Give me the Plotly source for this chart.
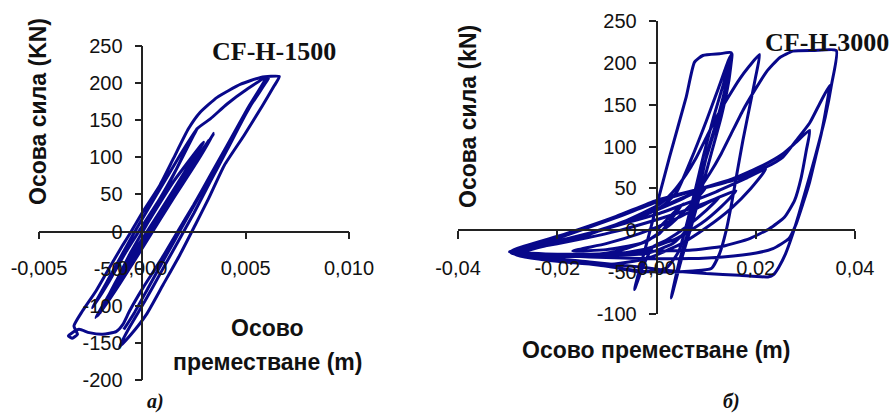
import plotly.graph_objects as go

# ---------------- data ----------------
# CF-H-1500 : axial displacement (m) and axial force (kN), traced load path
LEFT_DISP_M = [
    0.0, 0.00150, 0.00296,
    0.00215, 0.00085, -0.00029, -0.00127, -0.00208,
    -0.00111, 0.00020, 0.00150, 0.00264, 0.00345,
    0.00248, 0.00117, -0.00013, -0.00127, -0.00217,
    -0.00120, 0.00025, 0.00160, 0.00270, 0.00320,
    0.00230, 0.00100, -0.00030, -0.00140, -0.00225,
    -0.00143, -0.00062, 0.00020, 0.00117, 0.00199, 0.00248, 0.00267, 0.00251,
    0.00182, 0.00068, -0.00046, -0.00143, -0.00241,
    -0.00160, -0.00078, 0.00003, 0.00085, 0.00166, 0.00265, 0.00329, 0.00410, 0.00508, 0.00598,
    0.00508, 0.00410, 0.00329, 0.00248, 0.00166, 0.00085, 0.00003, -0.00062, -0.00094, -0.00127,
    -0.00192, -0.00257, -0.00306, -0.00339, -0.00358, -0.00339, -0.00314,
    -0.00331, -0.00290, -0.00225, -0.00160, -0.00094, -0.00054, 0.00003, 0.00085, 0.00150,
    0.00223, 0.00280, 0.00362, 0.00476, 0.00573, 0.00663,
    0.00638, 0.00581, 0.00492, 0.00397, 0.00321, 0.00256, 0.00182, 0.00101, 0.00020, -0.00054, -0.00111,
    -0.00060, 0.00010, 0.00090, 0.00170, 0.00250, 0.00330, 0.00410, 0.00500, 0.00590, 0.00612,
    0.00520, 0.00430, 0.00350, 0.00270, 0.00190, 0.00110, 0.00030, -0.00040, -0.00090,
]
LEFT_FORCE_KN = [
    0.0, 67.0, 120.5,
    84.8, 26.8, -22.3, -67.0, -111.6,
    -71.4, -13.4, 44.6, 93.7, 131.7,
    89.3, 31.2, -26.8, -75.9, -113.8,
    -70.0, -8.0, 52.0, 100.0, 122.0,
    85.0, 28.0, -30.0, -80.0, -116.0,
    -75.9, -31.2, 8.9, 58.0, 102.7, 129.5, 139.3, 133.0,
    102.7, 49.1, -4.5, -53.6, -102.7,
    -67.0, -26.8, 8.9, 44.6, 84.8, 138.4, 151.8, 171.9, 192.0, 207.6,
    165.2, 116.1, 75.9, 35.7, -2.2, -40.2, -75.9, -107.1, -125.0, -134.8,
    -138.4, -136.2, -131.7, -136.2, -140.6, -143.7, -138.4,
    -127.2, -107.1, -80.4, -49.1, -17.9, 0.0, 26.8, 62.5, 98.2,
    138.4, 160.7, 180.8, 198.6, 207.6, 208.9,
    196.4, 169.6, 129.5, 89.3, 44.6, 8.9, -31.2, -71.4, -111.6, -138.4, -155.3,
    -128.0, -95.0, -55.0, -15.0, 25.0, 68.0, 110.0, 158.0, 200.0, 207.0,
    168.0, 125.0, 85.0, 45.0, 5.0, -35.0, -75.0, -110.0, -132.0,
]

# CF-H-3000 : axial displacement (m) and axial force (kN), traced load path
RIGHT_DISP_M = [
    0.0, 0.00262, 0.00531, 0.00329, 0.00061, -0.00343, -0.01015, -0.01687,
    -0.01015, -0.00343, 0.00329, 0.00867, 0.01271,
    0.01002, 0.00598, 0.00195, -0.00074, -0.00276, -0.00444,
    -0.00128, 0.00262, 0.00598, 0.00766, 0.00934, 0.01271, 0.01506,
    0.01405, 0.01237, 0.01035, 0.00867, 0.00666, 0.00464, 0.00296,
    0.00497, 0.00699, 0.00901, 0.01103, 0.01304, 0.01459, 0.01526,
    0.01439, 0.01271, 0.01069, 0.00867, 0.00733, 0.00598, 0.00329, -0.00208, -0.01015, -0.01822, -0.02629, -0.02965,
    -0.02360, -0.01553, -0.00679, 0.00061, 0.00329, 0.00598, 0.00800, 0.01002, 0.01203, 0.01439, 0.01674, 0.01876, 0.02077,
    0.01997, 0.01876, 0.01741, 0.01620, 0.01513, 0.01405, 0.01271, 0.01103, 0.00733, 0.00195, -0.00343, -0.01150, -0.01956, -0.02763, -0.02931,
    -0.02225, -0.01351, -0.00343, 0.00329, 0.00834, 0.01069, 0.01304, 0.01506, 0.01741, 0.01977, 0.02212, 0.02481, 0.02750, 0.03153, 0.03624,
    0.03530, 0.03402, 0.03267, 0.03140, 0.03005, 0.02871, 0.02736, 0.02602, 0.02467, 0.02366, 0.02245,
    0.01674, 0.01002, 0.00329, -0.00343, -0.01351, -0.02360, -0.02898,
    -0.01822, -0.00813, 0.0, 0.00733, 0.01540, 0.02212, 0.02548, 0.02817, 0.03086, 0.03288, 0.03489,
    0.03422, 0.03321, 0.03207, 0.03086, 0.02951, 0.02817, 0.02669, 0.02346, 0.02010, 0.01338, 0.00666, -0.00343, -0.01351, -0.02360, -0.02931,
    -0.01822, -0.00813, 0.0, 0.00800, 0.01540, 0.02145, 0.02548, 0.02817, 0.03086,
    0.03019, 0.02918, 0.02783, 0.02582, 0.02279, 0.01876, 0.01338, 0.00666, 0.0,
    -0.0100, -0.0200, -0.0296,
    -0.0250, -0.0200, -0.0150, -0.0100, -0.0050, 0.0, 0.0050, 0.0100,
    0.0070, 0.0030, -0.0020, -0.0080, -0.0150, -0.0220, -0.0290,
    -0.0240, -0.0180, -0.0120, -0.0060, 0.0, 0.0060, 0.0120, 0.0180, 0.0220,
    0.0190, 0.0150, 0.0100, 0.0050, -0.0020, -0.0100, -0.0200, -0.0285,
    -0.0200, -0.0100, -0.0040, 0.0010, 0.0040, 0.0070, 0.0100, 0.0125, 0.0145, 0.0152,
    0.0135, 0.0115, 0.0095, 0.0078, 0.0062, 0.0045, 0.0020, -0.0030,
    -0.0120, -0.0220, -0.0296,
    -0.0260, -0.0200, -0.0140, -0.0080, -0.0020, 0.0040, 0.0100, 0.0160,
    0.0130, 0.0090, 0.0040, -0.0020, -0.0100, -0.0180, -0.0260, -0.0298,
]
RIGHT_FORCE_KN = [
    0.0, 15.9, 31.8, 15.9, -4.0, -15.9, -23.1, -24.7,
    -15.9, -4.0, 11.9, 27.8, 39.8,
    23.9, 4.0, -11.9, -19.9, -43.8, -70.8,
    0.0, 87.5, 159.1, 200.9, 208.8, 210.8, 212.0,
    175.0, 135.3, 95.5, 51.7, 4.0, -35.8, -80.8,
    -35.8, 4.0, 47.7, 91.5, 135.3, 179.0, 210.8,
    179.0, 139.2, 99.5, 59.7, 27.8, 0.0, -15.9, -27.8, -29.8, -29.8, -27.8, -25.9,
    -19.9, -8.8, 9.9, 31.0, 45.7, 66.8, 86.7, 110.6, 134.5, 158.3, 180.6, 196.5, 210.0,
    183.0, 147.2, 107.4, 67.6, 31.8, 0.0, -27.8, -45.7, -48.5, -49.7, -48.5, -41.8, -35.8, -29.8, -27.1,
    -17.9, -4.0, 15.9, 33.8, 47.7, 67.6, 91.5, 115.4, 143.2, 167.1, 189.0, 206.1, 214.0, 214.8, 214.8,
    175.0, 135.3, 103.4, 75.6, 47.7, 19.9, -6.0, -27.8, -43.8, -52.5, -55.7,
    -53.7, -51.7, -48.5, -43.8, -37.8, -31.8, -26.7,
    -6.0, 15.1, 33.8, 46.9, 59.7, 75.6, 87.5, 107.4, 128.1, 151.2, 173.0,
    147.2, 115.4, 87.5, 57.7, 31.8, 8.0, -9.9, -21.9, -27.1, -31.8, -33.8, -33.8, -31.8, -28.6, -24.7,
    -4.0, 16.7, 35.8, 48.5, 61.7, 77.6, 91.5, 105.4, 119.3,
    95.5, 63.6, 35.8, 15.9, 2.0, -9.9, -19.1, -23.9, -24.7,
    -28.0, -28.5, -25.5,
    -19.5, -13.5, -6.5, 2.0, 12.0, 24.0, 37.0, 51.0,
    31.0, 8.0, -13.0, -25.0, -31.0, -30.5, -27.5,
    -18.0, -10.0, -1.0, 9.0, 19.0, 32.0, 46.0, 62.0, 73.0,
    50.0, 26.0, 3.0, -16.0, -34.0, -41.0, -37.0, -29.0,
    -15.0, 3.0, 16.0, 28.0, 45.0, 85.0, 130.0, 170.0, 203.0, 211.0,
    175.0, 135.0, 90.0, 48.0, 10.0, -25.0, -45.0, -50.0,
    -40.0, -32.0, -25.5,
    -22.0, -16.0, -9.0, -1.0, 9.0, 20.0, 33.0, 47.0,
    28.0, 8.0, -10.0, -22.0, -30.0, -31.0, -28.0, -25.5,
]

LEFT_X_TICKS = [-0.005, 0.0, 0.005, 0.010]
LEFT_X_LABELS = ["-0,005", "0,000", "0,005", "0,010"]
LEFT_Y_TICKS = [-200, -150, -100, -50, 0, 50, 100, 150, 200, 250]
LEFT_Y_LABELS = ["-200", "-150", "-100", "-50", "0", "50", "100", "150", "200", "250"]

RIGHT_X_TICKS = [-0.04, -0.02, 0.0, 0.02, 0.04]
RIGHT_X_LABELS = ["-0,04", "-0,02", "0,00", "0,02", "0,04"]
RIGHT_Y_TICKS = [-100, -50, 0, 50, 100, 150, 200, 250]
RIGHT_Y_LABELS = ["-100", "-50", "0", "50", "100", "150", "200", "250"]

LEFT_TITLE = "CF-H-1500"
RIGHT_TITLE = "CF-H-3000"
Y_TITLE_LEFT = "Осова сила (KN)"
Y_TITLE_RIGHT = "Осова сила (kN)"
X_TITLE = "Осово преместване (m)"

assert len(LEFT_DISP_M) == len(LEFT_FORCE_KN)
assert len(RIGHT_DISP_M) == len(RIGHT_FORCE_KN)

# ---------------- layout geometry ----------------
W, H = 893, 415
LINE_COLOR = "#08088a"
AX_COLOR = "#222222"
SANS = "Liberation Sans, Arial, sans-serif"
SERIF = "Liberation Serif, Times New Roman, serif"

L_XR, L_YR = [-0.005, 0.010], [-200, 250]
R_XR, R_YR = [-0.04, 0.04], [-100, 250]
L_XD = [39 / W, 349 / W]
L_YD = [1 - 380 / H, 1 - 46 / H]
R_XD = [458 / W, 855 / W]
R_YD = [1 - 314 / H, 1 - 21 / H]


def cross(domain, rng):
    """paper fraction of the data value 0 inside an axis domain"""
    return domain[0] + (0 - rng[0]) / (rng[1] - rng[0]) * (domain[1] - domain[0])


fig = go.Figure()
line_style = dict(color=LINE_COLOR, width=3, shape="spline", smoothing=0.5)
fig.add_trace(go.Scatter(x=LEFT_DISP_M, y=LEFT_FORCE_KN, mode="lines", line=line_style,
                         xaxis="x", yaxis="y", showlegend=False, hoverinfo="skip"))
fig.add_trace(go.Scatter(x=RIGHT_DISP_M, y=RIGHT_FORCE_KN, mode="lines", line=line_style,
                         xaxis="x2", yaxis="y2", showlegend=False, hoverinfo="skip"))

axis_common = dict(showgrid=False, zeroline=False, showline=True, linecolor=AX_COLOR,
                   linewidth=1.6, ticks="outside", tickcolor=AX_COLOR, tickwidth=1.6,
                   tickfont=dict(family=SANS, size=20, color="#111111"),
                   tickmode="array", fixedrange=True, automargin=False)

fig.update_layout(
    template="none",
    width=W, height=H, autosize=False,
    margin=dict(l=0, r=0, t=0, b=0, pad=0),
    paper_bgcolor="white", plot_bgcolor="white",
    xaxis=dict(axis_common, domain=L_XD, range=L_XR, anchor="free",
               position=cross(L_YD, L_YR), tickvals=LEFT_X_TICKS, ticktext=LEFT_X_LABELS,
               ticklen=7, ticklabelstandoff=12),
    yaxis=dict(axis_common, domain=L_YD, range=L_YR, anchor="free",
               position=cross(L_XD, L_XR), tickvals=LEFT_Y_TICKS, ticktext=LEFT_Y_LABELS,
               ticklen=7, ticklabelstandoff=8),
    xaxis2=dict(axis_common, domain=R_XD, range=R_XR, anchor="free",
                position=cross(R_YD, R_YR), tickvals=RIGHT_X_TICKS, ticktext=RIGHT_X_LABELS,
                ticklen=8, ticklabelstandoff=12),
    yaxis2=dict(axis_common, domain=R_YD, range=R_YR, anchor="free",
                position=cross(R_XD, R_XR), tickvals=RIGHT_Y_TICKS, ticktext=RIGHT_Y_LABELS,
                ticklen=7, ticklabelstandoff=8),
)


def px_ann(text, x, y, size, family=SANS, angle=0, bold=True):
    fig.add_annotation(text=f"<b>{text}</b>" if bold else text,
                       x=x / W, y=1 - y / H, xref="paper", yref="paper",
                       xanchor="center", yanchor="middle", showarrow=False,
                       textangle=angle, font=dict(family=family, size=size, color="#111111"))


# axis titles
px_ann(Y_TITLE_LEFT, 38, 112, 23, angle=-90)
px_ann(X_TITLE.split(" ", 1)[0], 267, 328, 23)
px_ann(X_TITLE.split(" ", 1)[1], 267, 362, 23)
px_ann(Y_TITLE_RIGHT, 468, 117, 23, angle=-90)
px_ann(X_TITLE, 656, 350, 23)
# chart titles
px_ann(LEFT_TITLE, 274, 51, 26, family=SERIF)
px_ann(RIGHT_TITLE, 827, 42, 26, family=SERIF)
# panel labels
px_ann("<i>а)</i>", 155, 401, 20, family=SERIF)
px_ann("<i>б)</i>", 731, 401, 20, family=SERIF)

fig.write_html("out.html", config={"displayModeBar": False})
